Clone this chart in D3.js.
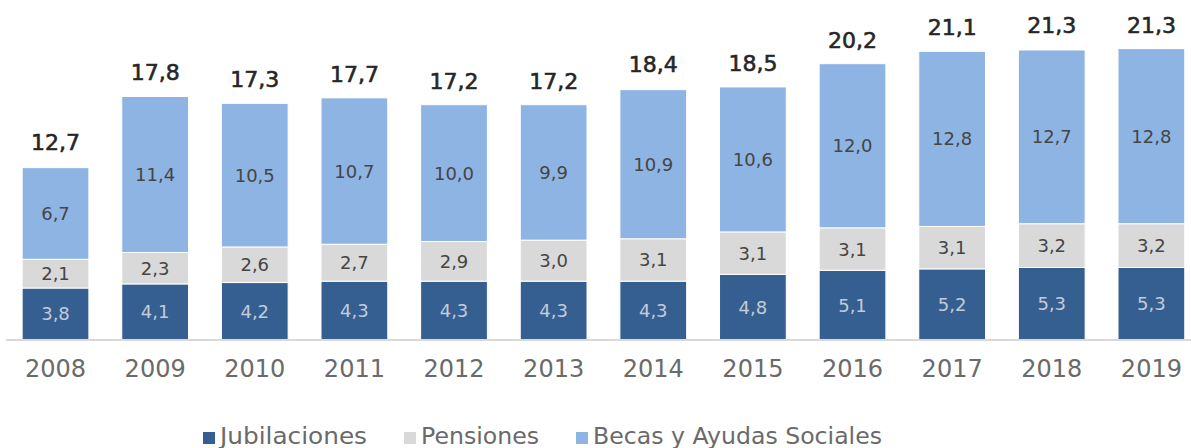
<!DOCTYPE html>
<html><head><meta charset="utf-8">
<script src="https://cdn.jsdelivr.net/npm/d3@7"></script>
<style>body{margin:0;background:#fff}svg{display:block}text{font-family:"DejaVu Sans",sans-serif}</style>
</head><body><svg id="c" width="1191" height="448"></svg>
<script>
const years = ["2008","2009","2010","2011","2012","2013","2014","2015","2016","2017","2018","2019"];
const jubilaciones = [3.8,4.1,4.2,4.3,4.3,4.3,4.3,4.8,5.1,5.2,5.3,5.3];
const pensiones = [2.1,2.3,2.6,2.7,2.9,3.0,3.1,3.1,3.1,3.1,3.2,3.2];
const becas = [6.7,11.4,10.5,10.7,10.0,9.9,10.9,10.6,12.0,12.8,12.7,12.8];
const totals = [12.7,17.8,17.3,17.7,17.2,17.2,18.4,18.5,20.2,21.1,21.3,21.3];
const seriesNames = ["Jubilaciones","Pensiones","Becas y Ayudas Sociales"];
const colors = ["#365f91","#d9d9d9","#8eb4e3"];
const labelColors = ["#c3cbd8","#454545","#454545"];

const svg = d3.select("#c");
const x = d3.scaleBand().domain(years).range([5.7,1201.2]).paddingInner(0.33).paddingOuter(0.165);
const y = d3.scaleLinear().domain([0,22]).range([340,340-22*13.68]);
const fmt = v => d3.format(".1f")(v).replace(".",",");

const data = years.map((yr,i)=>({year:yr,Jubilaciones:jubilaciones[i],Pensiones:pensiones[i],"Becas y Ayudas Sociales":becas[i]}));
const stack = d3.stack().keys(seriesNames)(data);

stack.forEach((layer,li)=>{
  const g = svg.append("g");
  g.selectAll("rect").data(layer).join("rect")
    .attr("x",d=>x(d.data.year)).attr("width",x.bandwidth())
    .attr("y",d=>y(d[1])).attr("height",d=>y(d[0])-y(d[1]))
    .attr("fill",colors[li]).attr("stroke","#fff").attr("stroke-width",1);
  g.selectAll("text").data(layer).join("text")
    .attr("x",d=>x(d.data.year)+x.bandwidth()/2)
    .attr("y",d=>(y(d[0])+y(d[1]))/2)
    .attr("dy","0.36em").attr("text-anchor","middle")
    .attr("font-size",18).attr("fill",labelColors[li])
    .text(d=>fmt(d[1]-d[0]));
});

// totals
svg.append("g").selectAll("text").data(years).join("text")
  .attr("x",d=>x(d)+x.bandwidth()/2).attr("y",(d,i)=>y(totals[i])-16)
  .attr("text-anchor","middle").attr("font-size",22).attr("fill","#262626")
  .attr("stroke","#262626").attr("stroke-width",0.6)
  .text((d,i)=>fmt(totals[i]));

// axis
const ax = svg.append("g").attr("transform","translate(0,340)")
  .call(d3.axisBottom(x).tickSize(0).tickPadding(20));
ax.select(".domain").attr("stroke","#d9d9d9").attr("stroke-width",2).attr("d","M6,0H1191");
ax.selectAll("text").attr("font-size",24).attr("fill","#6a6a6a")
  .attr("font-family","'DejaVu Sans',sans-serif");

// legend
const legX = [203,404,576];
const legW = [147,118,289];
const lg = svg.append("g");
seriesNames.forEach((n,i)=>{
  lg.append("rect").attr("x",legX[i]).attr("y",432).attr("width",12).attr("height",12).attr("fill",colors[i]);
  lg.append("text").attr("x",legX[i]+17).attr("y",444).attr("font-size",23)
    .attr("textLength",legW[i]).attr("lengthAdjust","spacingAndGlyphs")
    .attr("fill","#6a6a6a").text(n);
});
</script></body></html>
